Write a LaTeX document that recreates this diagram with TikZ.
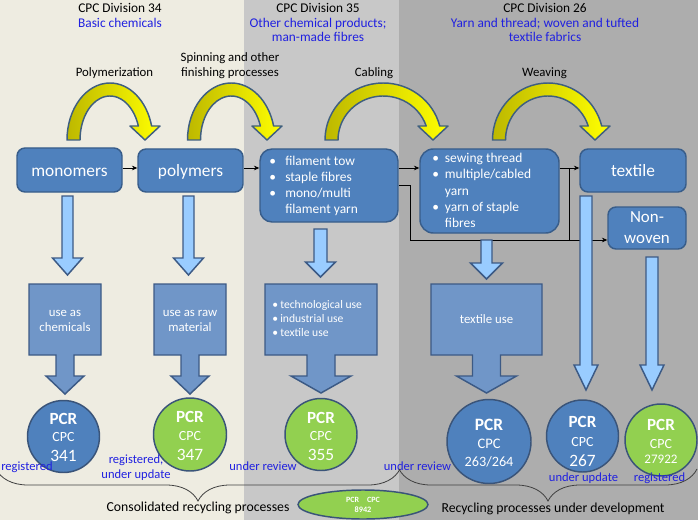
\documentclass[tikz,border=0pt]{standalone}
\usepackage{fontspec}
\setmainfont{Carlito}
\usetikzlibrary{calc,decorations.pathreplacing,arrows.meta,shapes.geometric}

\definecolor{bgA}{HTML}{EEECE1}
\definecolor{bgB}{HTML}{C8C8C8}
\definecolor{bgC}{HTML}{ADADAD}
\definecolor{boxblue}{HTML}{4F81BD}
\definecolor{boxline}{HTML}{385D8A}
\definecolor{usefill}{HTML}{7096C8}
\definecolor{arrowfill}{HTML}{99CCFF}
\definecolor{arrowline}{HTML}{3C5A85}
\definecolor{pcrgreen}{HTML}{92D050}
\definecolor{circline}{HTML}{3A5479}
\definecolor{txtblue}{HTML}{2020E0}
\definecolor{curvline}{HTML}{3F5F80}
\definecolor{curvdark}{HTML}{BDB800}

\newcommand{\curvarrow}[2]{%
 \pgfmathsetmacro{\cax}{(#2+0.961*#1)/1.961}%
 \pgfmathsetmacro{\aout}{\cax-#1+6.5}%
 \pgfmathsetmacro{\ain}{\cax-#1-6.5}%
 \pgfmathsetmacro{\xin}{\cax+0.9483*\ain}%
 \path[curvstyle] ({#1-6.5},140) arc[start angle=180, end angle=345.78, x radius=\aout, y radius=57]
   -- ({#2+15},126) -- (#2,140) -- ({#2-15},126) -- (\xin,126)
   arc[start angle=341.45, end angle=180, x radius=\ain, y radius=44] -- cycle;}

\newcommand{\fatdown}[6]{%
 \path[fatarrow] ({#1-#5},#2) -- ({#1+#5},#2) -- ({#1+#5},#3) -- ({#1+#6},#3) -- (#1,#4)
   -- ({#1-#6},#3) -- ({#1-#5},#3) -- cycle;}

\newcommand{\callout}[8]{%
 \pgfmathsetmacro{\ccx}{(#1+#2)/2}%
 \path[calloutstyle] (#1,#3) -- (#2,#3) -- (#2,#4) -- ({\ccx+#5},#4) -- ({\ccx+#5},#7)
   -- ({\ccx+#6},#7) -- (\ccx,#8) -- ({\ccx-#6},#7) -- ({\ccx-#5},#7) -- ({\ccx-#5},#4)
   -- (#1,#4) -- cycle;}

\begin{document}
\begin{tikzpicture}[x=0.75pt,y=-0.75pt,
  hdr/.style={anchor=base, inner sep=0pt, font=\fontsize{10}{12}\selectfont},
  hdrblue/.style={hdr, text=txtblue},
  proc/.style={anchor=base, inner sep=0pt, font=\fontsize{9.6}{11}\selectfont},
  box/.style={draw=boxline, line width=1.1pt, fill=boxblue, rounded corners=6pt, inner sep=0pt},
  boxtext/.style={anchor=base, inner sep=0pt, text=white, font=\fontsize{13}{15}\selectfont},
  listtext/.style={anchor=base west, inner sep=0pt, text=white, font=\fontsize{10.1}{11.8}\selectfont},
  usetext/.style={anchor=base, inner sep=0pt, text=white, font=\fontsize{9.6}{11}\selectfont},
  curvstyle/.style={shade, left color=curvdark, right color=yellow, draw=curvline, line width=1.1pt, line join=round},
  fatarrow/.style={fill=arrowfill, draw=arrowline, line width=1.1pt, line join=miter},
  calloutstyle/.style={fill=usefill, draw=arrowline, line width=1.1pt, line join=miter},
  conn/.style={-{Stealth[length=4pt,width=3.5pt]}, line width=0.6pt, black},
  plainline/.style={line width=0.6pt, black},
  pcr/.style={circle, draw=circline, line width=1.1pt, inner sep=0pt},
  pcrblue/.style={pcr, fill=boxblue},
  pcrgr/.style={pcr, fill=pcrgreen},
  pcrt/.style={anchor=base, inner sep=0pt, text=white, font=\bfseries\fontsize{12.8}{14}\selectfont},
  cpct/.style={anchor=base, inner sep=0pt, text=white, font=\fontsize{10.5}{12}\selectfont},
  numt/.style={anchor=base, inner sep=0pt, text=white, font=\fontsize{13}{15}\selectfont},
  status/.style={anchor=base, inner sep=0pt, text=txtblue, font=\fontsize{9.4}{11}\selectfont},
  bottomlbl/.style={anchor=base, inner sep=0pt, font=\fontsize{10.3}{12}\selectfont},
  bracestyle/.style={decorate, decoration={brace, amplitude=24pt}, draw=black!75, line width=0.6pt}
]
\useasboundingbox (0,0) rectangle (698,520);
% backgrounds
\fill[bgA] (0,0) rectangle (244,520);
\fill[bgB] (244,0) rectangle (399,520);
\fill[bgC] (399,0) rectangle (698,520);

% headers
\node[hdr] (h34) at (120,13) {CPC Division 34};
\node[hdrblue] (h34b) at (120,28) {Basic chemicals};
\node[hdr] (h35) at (318,13) {CPC Division 35};
\node[hdrblue] (h35b) at (318,28) {Other chemical products;};
\node[hdrblue] (h35c) at (318,42) {man-made fibres};
\node[hdr] (h26) at (545,13) {CPC Division 26};
\node[hdrblue] (h26b) at (545,28) {Yarn and thread; woven and tufted};
\node[hdrblue] (h26c) at (545,42) {textile fabrics};

% process labels
\node[proc] (lpoly) at (114.5,77) {Polymerization};
\node[proc] (lspin1) at (230,62) {Spinning and other};
\node[proc] (lspin2) at (230,77) {finishing processes};
\node[proc] (lcab) at (374,77) {Cabling};
\node[proc] (lweav) at (544.5,77) {Weaving};

% curved process arrows
\curvarrow{73.5}{145}
\curvarrow{194}{267}
\curvarrow{331.5}{433}
\curvarrow{499}{595}

% product boxes
\node[box, minimum width=78.75pt, minimum height=33pt] (monomers) at (69.5,170) {};
\node[box, minimum width=78.75pt, minimum height=32.25pt] (polymers) at (190.5,170.5) {};
\node[box, minimum width=103.5pt, minimum height=54.75pt, rounded corners=9pt] (filament) at (329,185.5) {};
\node[box, minimum width=104.25pt, minimum height=63pt, rounded corners=10pt] (sewing) at (489.5,191) {};
\node[box, minimum width=79.5pt, minimum height=32.25pt] (textile) at (633,170.5) {};
\node[box, minimum width=58.5pt, minimum height=31.5pt] (nonwoven) at (647,228) {};

\node[boxtext] (tmono) at (69.5,176) {monomers};
\node[boxtext] (tpoly) at (190.5,176.5) {polymers};
\node[boxtext] (ttext) at (633,176.7) {textile};
\node[boxtext, font=\fontsize{12.7}{15}\selectfont] (tnon1) at (647,222.7) {Non-};
\node[boxtext, font=\fontsize{12.7}{15}\selectfont] (tnon2) at (647,243.3) {woven};

\node[listtext] (tfil) at (269,166) {\begin{tabular}[t]{@{}l@{}l@{}}
 \makebox[12pt][l]{\textbullet} & filament tow\\
 \makebox[12pt][l]{\textbullet} & staple fibres\\
 \makebox[12pt][l]{\textbullet} & mono/multi\\
 & filament yarn\end{tabular}};
\node[listtext, font=\fontsize{10.1}{12.2}\selectfont] (tsew) at (432,162.7) {\begin{tabular}[t]{@{}l@{}l@{}}
 \makebox[9.5pt][l]{\textbullet} & sewing thread\\
 \makebox[9.5pt][l]{\textbullet} & multiple/cabled\\
 & yarn\\
 \makebox[9.5pt][l]{\textbullet} & yarn of staple\\
 & fibres\end{tabular}};

% thin connectors
\coordinate (r1) at (0,168);
\coordinate (r2) at (0,185);
\coordinate (r3) at (0,240);
\coordinate (j1) at (410,185);
\coordinate (j2) at (569,168);
\draw[conn] (monomers.east |- r1) -- (polymers.west |- r1);
\draw[conn] (polymers.east |- r1) -- (filament.west |- r1);
\draw[conn] (filament.east |- r1) -- (sewing.west |- r1);
\draw[conn] (sewing.east |- r1) -- (textile.west |- r1);
\draw[conn] (filament.east |- r2) -- (j1) -- (j1 |- r3) -- (nonwoven.west |- r3);
\draw[plainline] (j2) -- (j2 |- r3);

% light blue arrows
\fatdown{67.5}{196}{258}{275}{5.5}{15}
\fatdown{188.5}{196}{258}{275}{5.5}{15}
\fatdown{320.5}{229}{262}{277}{6.5}{15}
\fatdown{486.5}{240}{263}{279}{5.5}{16}
\fatdown{586}{196}{365}{390}{6}{12}
\fatdown{652}{257}{365}{390}{6}{12}

% use callouts
\callout{29}{101}{284}{355}{9}{19}{376}{394}
\callout{154}{226}{284}{355}{9}{19}{376}{394}
\callout{265}{377}{284}{355}{14}{30}{376}{393}
\callout{431}{542}{284}{355}{14}{30}{376}{393}

\node[usetext] (u1a) at (65,316.7) {use as};
\node[usetext] (u1b) at (65,331.7) {chemicals};
\node[usetext] (u2a) at (190,316.7) {use as raw};
\node[usetext] (u2b) at (190,331.7) {material};
\node[listtext, font=\fontsize{8.7}{10.65}\selectfont] (u3) at (272,308.3) {\begin{tabular}[t]{@{}l@{}l@{}}
 \makebox[6pt][l]{\textbullet} & technological use\\
 \makebox[6pt][l]{\textbullet} & industrial use\\
 \makebox[6pt][l]{\textbullet} & textile use\end{tabular}};
\node[usetext] (u4) at (486.5,323.3) {textile use};

% PCR circles
\node[pcrblue, minimum size=54pt] (c341) at (63.5,436.5) {};
\node[pcrgr, minimum size=54.75pt] (c347) at (190,434.5) {};
\node[pcrgr, minimum size=54pt] (c355) at (321,434.5) {};
\node[pcrblue, minimum size=63pt] (c263) at (489,441.5) {};
\node[pcrblue, minimum size=54pt] (c267) at (582.5,436) {};
\node[pcrgr, minimum size=54pt] (c279) at (661,440) {};

\node[pcrt] (p1) at (63.5,424.3) {PCR};
\node[cpct] (q1) at (63.5,441.7) {CPC};
\node[numt] (n1) at (63.5,461.7) {341};
\node[pcrt] (p2) at (190,422.3) {PCR};
\node[cpct] (q2) at (190,440) {CPC};
\node[numt] (n2) at (190,460) {347};
\node[pcrt] (p3) at (321,423) {PCR};
\node[cpct] (q3) at (321,440.7) {CPC};
\node[numt] (n3) at (321,460) {355};
\node[pcrt, font=\bfseries\fontsize{13}{15}\selectfont] (p4) at (489,430.7) {PCR};
\node[cpct, font=\fontsize{10.9}{12}\selectfont] (q4) at (489,448.3) {CPC};
\node[numt, font=\fontsize{10.7}{12}\selectfont] (n4) at (489,466) {263/264};
\node[pcrt] (p5) at (582.5,427.7) {PCR};
\node[cpct] (q5) at (582.5,446) {CPC};
\node[numt] (n5) at (582.5,466) {267};
\node[pcrt] (p6) at (661,430.7) {PCR};
\node[cpct] (q6) at (661,448.3) {CPC};
\node[numt, font=\fontsize{9.8}{12}\selectfont] (n6) at (661,463.3) {27922};

% status labels
\node[status, anchor=base west] (s1) at (1,470) {registered};
\node[status] (s2a) at (136,463.3) {registered,};
\node[status] (s2b) at (136,478.3) {under update};
\node[status] (s3) at (263,470.7) {under review};
\node[status] (s4) at (417.5,470.7) {under review};
\node[status] (s5) at (583.5,481.7) {under update};
\node[status] (s6) at (659.5,481.7) {registered};

% braces
\draw[bracestyle] (400,469) -- (-4,469);
\draw[bracestyle] (697,469) -- (399,469);

% bottom
\node[ellipse, draw=circline, line width=1.1pt, fill=pcrgreen, minimum width=97.5pt, minimum height=21.75pt, inner sep=0pt] (e8942) at (363,504.5) {};
\node[anchor=base, inner sep=0pt, text=white, font=\bfseries\fontsize{6}{7}\selectfont] (e1) at (363,502.3) {PCR\hspace{6pt}CPC};
\node[anchor=base, inner sep=0pt, text=white, font=\bfseries\fontsize{6.2}{7}\selectfont] (e2) at (363,512.7) {8942};
\node[bottomlbl] (bl1) at (198,511.7) {Consolidated recycling processes};
\node[bottomlbl] (bl2) at (553,512.7) {Recycling processes under development};
\end{tikzpicture}
\end{document}
